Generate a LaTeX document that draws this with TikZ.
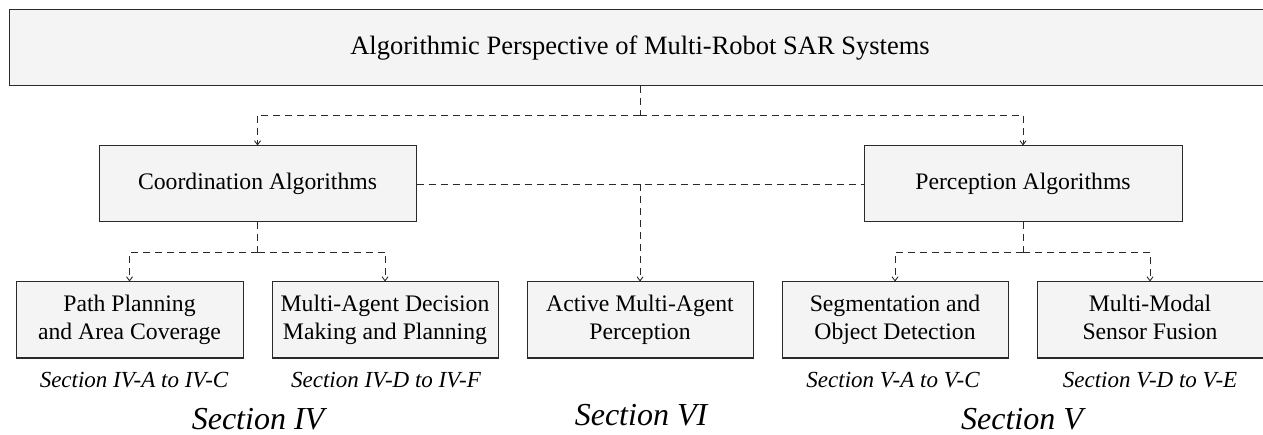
\documentclass[tikz,border=0pt]{standalone}
\usepackage{fontspec}
\setmainfont{LiberationSerif}[Extension=.ttf,UprightFont=*-Regular,ItalicFont=*-Italic,BoldFont=*-Bold,BoldItalicFont=*-BoldItalic]
\usetikzlibrary{arrows.meta}
\definecolor{boxfill}{HTML}{F4F4F4}
\definecolor{boxline}{HTML}{2A2A2A}
\begin{document}
\begin{tikzpicture}[x=1pt,y=-1pt,
  box/.style={draw=boxline,line width=1pt,fill=boxfill,minimum height=76pt,inner sep=0pt,align=center,
    font=\fontsize{23.7}{28}\selectfont},
  conn/.style={draw=boxline,line width=0.9pt,dash pattern=on 7pt off 5pt},
  arr/.style={conn,-{Straight Barb[length=4pt,width=6pt,line width=0.9pt]}},
  sub/.style={font=\fontsize{23}{27}\selectfont\itshape,anchor=base,inner sep=0pt},
  sec/.style={font=\fontsize{32}{36}\selectfont\itshape,anchor=base,inner sep=0pt}]
\useasboundingbox (0,0) rectangle (1263,435);
\node[box,minimum width=1262pt,font=\fontsize{26.5}{30}\selectfont] (top) at (640,48) {Algorithmic Perspective of Multi-Robot SAR Systems};
\node[box,minimum width=317pt] (coord) at (257.5,184) {Coordination Algorithms};
\node[box,minimum width=318pt] (perc) at (1023,184) {Perception Algorithms};
\node[box,minimum width=227pt] (path) at (129.5,320) {\strut Path Planning\\and Area Coverage\strut};
\node[box,minimum width=226pt] (mad) at (385,320) {\strut Multi-Agent Decision\\Making and Planning\strut};
\node[box,minimum width=226pt] (act) at (640,320) {\strut Active Multi-Agent\\Perception\strut};
\node[box,minimum width=226pt] (seg) at (895,320) {\strut Segmentation and\\Object Detection\strut};
\node[box,minimum width=226pt] (mm) at (1150,320) {\strut Multi-Modal\\Sensor Fusion\strut};
\coordinate (j1) at (640,115);
\coordinate (j2) at (640,184);
\coordinate (j3) at (257.5,252);
\coordinate (j4) at (1023,252);
\draw[conn] (top.south) -- (j1);
\draw[arr] (j1) -| (coord.north);
\draw[arr] (j1) -| (perc.north);
\draw[conn] (coord.east) -- (perc.west);
\draw[arr] (j2) -- (act.north);
\draw[conn] (coord.south) -- (j3);
\draw[arr] (j3) -| (path.north);
\draw[arr] (j3) -| (mad.north);
\draw[conn] (perc.south) -- (j4);
\draw[arr] (j4) -| (seg.north);
\draw[arr] (j4) -| (mm.north);
\node[sub] (s1) at (134,387) {Section IV-A to IV-C};
\node[sub] (s2) at (386,387) {Section IV-D to IV-F};
\node[sub] (s3) at (893,387) {Section V-A to V-C};
\node[sub] (s4) at (1150,387) {Section V-D to V-E};
\node[sec] (t1) at (258,429) {Section IV};
\node[sec] (t2) at (641,425) {Section VI};
\node[sec] (t3) at (1022,429) {Section V};
\end{tikzpicture}
\end{document}
